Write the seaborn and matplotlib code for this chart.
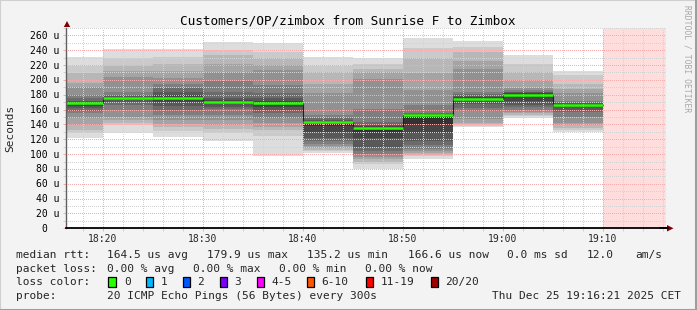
import numpy as np
import pandas as pd
import matplotlib
matplotlib.use("Agg")
import matplotlib.pyplot as plt
import matplotlib.transforms as mtransforms
from matplotlib.patches import Rectangle, Polygon
from matplotlib.lines import Line2D
import seaborn as sns

# ---------------- data ----------------
timestamps = ["18:20", "18:25", "18:30", "18:35", "18:40", "18:45",
              "18:50", "18:55", "19:00", "19:05", "19:10"]
median_rtt = [168.3, 175.5, 175.5, 170.5, 168.5, 143.6, 135.2, 152.5, 174.6, 179.9, 166.6]
loss_pings = [0, 0, 0, 0, 0, 0, 0, 0, 0, 0, 0]

# 20 sorted ping RTTs (us) of each 5-minute step
p_1820 = [121, 128, 132, 139, 148, 155, 158, 162, 165, 167, 169, 170, 171.5, 175, 180, 191, 196, 209, 219, 231]
p_1825 = [128, 139, 142, 146, 150, 160, 166, 170, 173, 174.5, 176.3, 177.3, 178.5, 180, 184, 204, 212, 218, 229, 241.5]
p_1830 = [123.5, 131, 136, 141, 146, 153, 160, 165, 170, 173, 177, 179.5, 184, 188.5, 195, 203, 212, 222, 231, 241]
p_1835 = [117, 128, 134, 139, 146, 153, 161, 164, 167, 169, 171, 173, 176, 184, 199, 211, 222, 233, 240, 251]
p_1840 = [97, 125, 133, 137, 142, 149, 156, 160, 164, 167, 169.5, 171.5, 175, 182, 193, 213, 220, 229, 238, 249]
p_1845 = [101, 104, 106, 108, 111, 114, 117, 121, 130, 138, 144, 145, 146.5, 148.5, 152, 182, 195, 211, 218, 231]
p_1850 = [80, 86, 90, 93, 96, 100, 104, 110, 121, 130, 136, 137.5, 139, 143.6, 161, 200.6, 211, 215, 222, 229]
p_1855 = [93.5, 97, 99, 101, 104, 107, 112, 118, 128, 140, 152.8, 153.5, 154.5, 156, 166, 186, 208.7, 229, 242.4, 256]
p_1900 = [136, 138.5, 140, 142, 147, 158, 162, 168, 172, 174, 175.5, 177, 178.5, 181, 184, 215, 226, 238, 244.6, 252]
p_1905 = [149, 151.5, 153, 155, 157, 160, 164, 166, 172, 177, 181, 182, 183, 184, 186, 188.5, 200, 211, 222, 233.4]
p_1910 = [130, 132.5, 135, 139, 142, 150, 157, 160, 164, 165.5, 167, 168, 169, 170, 172, 182, 188, 195, 206.5, 212]

x_tick_labels = ["18:20", "18:30", "18:40", "18:50", "19:00", "19:10"]
y_tick_values = [0, 20, 40, 60, 80, 100, 120, 140, 160, 180, 200, 220, 240, 260]

title = "Customers/OP/zimbox from Sunrise F to Zimbox"
stat_rtt = ["164.5 us avg", "179.9 us max", "135.2 us min", "166.6 us now", "0.0 ms sd", "12.0", "am/s"]
stat_loss = ["0.00 % avg", "0.00 % max", "0.00 % min", "0.00 % now"]
loss_labels = ["0", "1", "2", "3", "4-5", "6-10", "11-19", "20/20"]
loss_colors = ["#26ff00", "#00b8ff", "#0059ff", "#7e00ff", "#ff00ff", "#ff5500", "#ff0000", "#a10000"]
probe_text = "20 ICMP Echo Pings (56 Bytes) every 300s"
stamp_text = "Thu Dec 25 19:16:21 2025 CET"

# ---------------- setup ----------------
W, H = 697, 310
sns.set_theme(style="white")
plt.rcParams["font.family"] = ["DejaVu Sans Mono", "DejaVu Sans"]
BG = "#f3f3f3"

fig = plt.figure(figsize=(W / 100, H / 100), dpi=100, facecolor=BG)
ax = fig.add_axes([66 / W, 1 - 228.3 / H, 600 / W, 200.4 / H])
ax.set_facecolor("white")

def fx(x):
    return x / W

def fy(y):
    return 1 - y / H

def minutes(s):
    h, m = s.split(":")
    return (int(h) - 18) * 60 + int(m)

t = np.array([minutes(s) for s in timestamps], dtype=float)
edges = np.concatenate([[t[0] - 5], t])
pings = np.array([p_1820, p_1825, p_1830, p_1835, p_1840, p_1845,
                  p_1850, p_1855, p_1900, p_1905, p_1910], dtype=float)
pings.sort(axis=1)
n = pings.shape[1]
half = n / 2

x_end = 76 + 21 / 60
x_start = x_end - 60
ax.set_xlim(x_start, x_end)
ax.set_ylim(0, 270)

# smoke bands (outer = light, inner = dark)
for k in range(n // 2):
    ibot = k + 1
    g = int(190 / half * (half - ibot)) + 50
    col = "#%02x%02x%02x" % (g, g, g)
    ax.stairs(pings[:, n - 1 - k], edges, baseline=pings[:, k], fill=True,
              color=col, lw=0, zorder=1)

# unknown data area
ax.axvspan(t[-1], x_end, color="#ffdddd", lw=0, zorder=0.5)

# median line
df = pd.DataFrame({"t": edges, "median": [median_rtt[0]] + list(median_rtt)})
sns.lineplot(data=df, x="t", y="median", drawstyle="steps-pre", color="#202020",
             lw=0.8, ax=ax, zorder=3, legend=False)
lc = [loss_colors[0] if l == 0 else loss_colors[-1] for l in loss_pings]
ax.hlines(median_rtt, edges[:-1], edges[1:], colors=lc, lw=1.8, zorder=4)

# grid
ax.set_xticks([minutes(s) for s in x_tick_labels], x_tick_labels)
ax.set_xticks(np.arange(18, 77, 2), minor=True)
ax.set_yticks(y_tick_values, [""] * len(y_tick_values))
ax.set_yticks(np.arange(10, 271, 20), minor=True)
ax.set_axisbelow(False)
dots = (0, (1, 2))
ax.grid(True, which="major", color="#f4acac", lw=0.72, linestyle=dots, antialiased=False)
ax.grid(True, which="minor", color="#d2d2d2", lw=0.72, linestyle=dots, antialiased=False)
ax.tick_params(axis="both", which="major", direction="out", length=2.2, width=0.72,
               color="#f4acac", labelsize=7, pad=1.6)
ax.tick_params(axis="both", which="minor", direction="out", length=2.2, width=0.72,
               color="#d2d2d2")
ax.tick_params(axis="x", which="both", bottom=True)
ax.tick_params(axis="y", which="both", left=True)
ax.set_xlabel("")
ax.set_ylabel("")
for s in ["top", "right"]:
    ax.spines[s].set_visible(False)
ax.spines["left"].set_color("#606060")
ax.spines["left"].set_linewidth(1.0)
ax.spines["bottom"].set_color("#000000")
ax.spines["bottom"].set_linewidth(1.3)
ax.spines["left"].set_zorder(5)
ax.spines["bottom"].set_zorder(5)

# y tick labels (monospace, right aligned on the unit)
adv = 6.25
ytrans = ax.get_yaxis_transform()
for v in y_tick_values:
    label = f"{v} u" if v else "0"
    xr = 59.8 - (0 if v else 2 * adv)
    tr = mtransforms.offset_copy(ytrans, fig=fig, x=0, y=-3.5, units="dots")
    ax.text((xr - 66) / 600, v, label, transform=tr, ha="right", va="baseline",
            fontsize=7, color="black", clip_on=False)

# arrows
fig.add_artist(Polygon([[fx(63.8), fy(27)], [fx(70.2), fy(27)], [fx(67), fy(21)]],
                       closed=True, transform=fig.transFigure, color="#7f0000", lw=0))
fig.add_artist(Polygon([[fx(667), fy(225)], [fx(667), fy(231.5)], [fx(673.5), fy(228.3)]],
                       closed=True, transform=fig.transFigure, color="#7f0000", lw=0))
fig.add_artist(Line2D([fx(660), fx(668)], [fy(228.3), fy(228.3)], transform=fig.transFigure,
                      color="black", lw=1.3))

# title, labels
fig.text(fx(347.7), fy(24), title, ha="center", va="baseline", fontsize=9.2, color="black")
fig.text(fx(10), fy(128), "Seconds", rotation=90, ha="center", va="center", fontsize=8)
fig.text(fx(687.5), fy(5), "RRDTOOL / TOBI OETIKER", rotation=270, ha="center", va="top",
         fontsize=5.8, color="#a8a8a8")

# legend rows
LF = 8
rows_y = [257.7, 271.5, 285.3, 299.2]
fig.text(fx(16), fy(rows_y[0]), "median rtt:", fontsize=LF, va="baseline")
for s, x in zip(stat_rtt, [107.3, 207.3, 307.3, 407.7, 507.3, 586.7, 635]):
    fig.text(fx(x), fy(rows_y[0]), s, fontsize=LF, va="baseline")
fig.text(fx(16), fy(rows_y[1]), "packet loss:", fontsize=LF, va="baseline")
for s, x in zip(stat_loss, [107.3, 193.3, 279.3, 365]):
    fig.text(fx(x), fy(rows_y[1]), s, fontsize=LF, va="baseline")
fig.text(fx(16), fy(rows_y[2]), "loss color:", fontsize=LF, va="baseline")
sq_x = [108.3, 145.7, 182.7, 219.7, 256.7, 307, 365.7, 430.7]
lb_x = [124, 161, 197, 234, 271, 321.7, 380.7, 445.3]
for lab, c, xs, xl in zip(loss_labels, loss_colors, sq_x, lb_x):
    fig.add_artist(Rectangle((fx(xs), fy(287.3)), 7.4 / W, 10.2 / H, transform=fig.transFigure,
                             facecolor=c, edgecolor="black", lw=0.9))
    fig.text(fx(xl), fy(rows_y[2]), lab, fontsize=LF, va="baseline")
fig.text(fx(16), fy(rows_y[3]), "probe:", fontsize=LF, va="baseline")
fig.text(fx(107.3), fy(rows_y[3]), probe_text, fontsize=LF, va="baseline")
fig.text(fx(680.5), fy(rows_y[3]), stamp_text, fontsize=LF, va="baseline", ha="right")

# 3D frame
fig.add_artist(Line2D([0, 0, 1], [0, 1, 1], transform=fig.transFigure, color="#cfcfcf", lw=1.5))
fig.add_artist(Line2D([0, 1, 1], [0.5 / H, 0.5 / H, 1], transform=fig.transFigure,
                      color="#9e9e9e", lw=2.2))
fig.add_artist(Line2D([1 - 1 / W, 1 - 1 / W], [0, 1], transform=fig.transFigure,
                      color="#9e9e9e", lw=2.2))

fig.savefig("out.png", dpi=100, facecolor=BG)
